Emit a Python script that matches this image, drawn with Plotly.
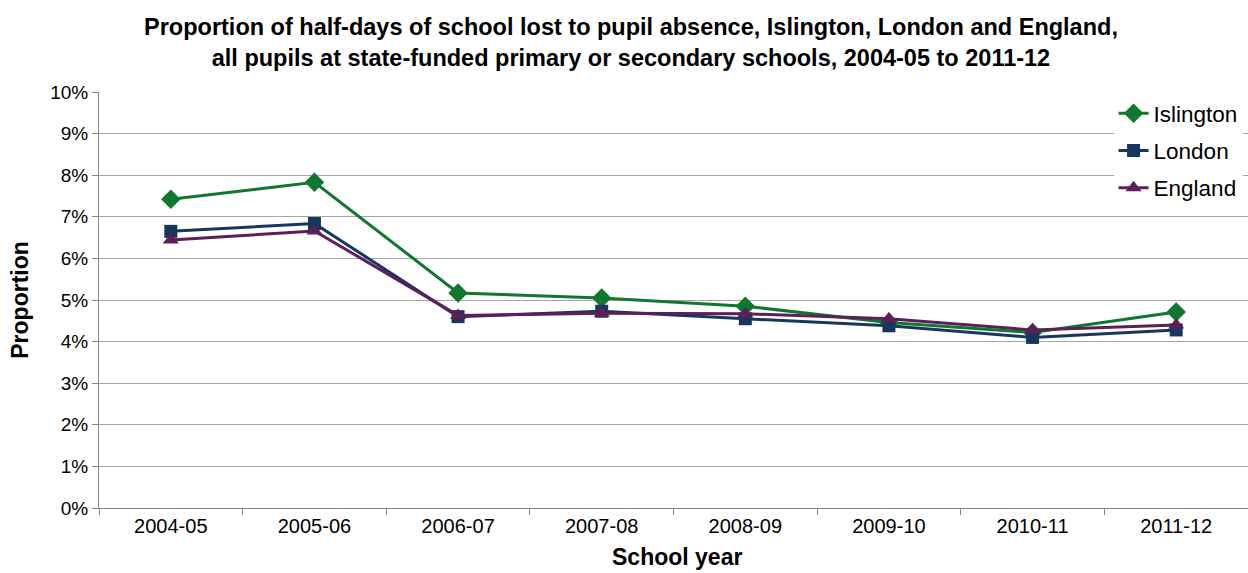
import plotly.graph_objects as go

# School years on the x axis
years = ["2004-05", "2005-06", "2006-07", "2007-08",
         "2008-09", "2009-10", "2010-11", "2011-12"]

# Percentage of half-days lost to absence
islington = [7.42, 7.83, 5.17, 5.05, 4.85, 4.46, 4.22, 4.71]
london = [6.65, 6.84, 4.60, 4.73, 4.55, 4.38, 4.10, 4.28]
england = [6.44, 6.66, 4.63, 4.68, 4.67, 4.55, 4.28, 4.40]

series = [
    ("Islington", islington, "#10772f", "diamond", 15),
    ("London", london, "#17375e", "square", 13),
    ("England", england, "#5c1f58", "triangle-up", 14),
]

fig = go.Figure()
for name, vals, color, symbol, size in series:
    fig.add_trace(go.Scatter(
        x=years, y=vals, name=name, mode="lines+markers",
        legendgroup=name,
        line=dict(color=color, width=3),
        marker=dict(symbol=symbol, size=size, color=color,
                    line=dict(width=0)),
    ))

font_family = "Liberation Sans, Arial, sans-serif"

fig.update_layout(
    width=1248, height=573,
    margin=dict(l=99, r=0, t=92, b=65),
    paper_bgcolor="white", plot_bgcolor="white",
    font=dict(family=font_family, color="black", size=19),
    showlegend=True,
    legend=dict(
        x=0.883, y=1.0, xanchor="left", yanchor="top",
        bgcolor="white", borderwidth=0,
        font=dict(size=22.5, family=font_family, color="black"),
        tracegroupgap=5,
    ),
    xaxis=dict(
        type="category", range=[-0.5, 7.5],
        showgrid=False, showline=True, linecolor="#868686", linewidth=1,
        ticks="outside", tickson="boundaries", ticklen=6, tickcolor="#868686",
        tickfont=dict(size=20),
    ),
    yaxis=dict(
        range=[0, 10], dtick=1, ticksuffix="%",
        showgrid=True, gridcolor="#a6a6a6", gridwidth=1,
        showline=True, linecolor="#868686", linewidth=1,
        ticks="outside", ticklen=6, tickcolor="#868686",
        tickfont=dict(size=19), zeroline=False,
    ),
    annotations=[
        dict(
            text="<b>Proportion of half-days of school lost to pupil absence, Islington, London and England,<br>"
                 "all pupils at state-funded primary or secondary schools, 2004-05 to 2011-12</b>",
            xref="paper", yref="paper", x=0.463, y=1.12,
            xanchor="center", yanchor="middle", showarrow=False,
            font=dict(size=23.5, family=font_family, color="black"),
        ),
        dict(
            text="<b>School year</b>", xref="paper", yref="paper",
            x=0.503, y=-0.117, xanchor="center", yanchor="middle",
            showarrow=False, font=dict(size=23, family=font_family, color="black"),
        ),
        dict(
            text="<b>Proportion</b>", xref="paper", yref="paper",
            x=-0.069, y=0.5, xanchor="center", yanchor="middle", textangle=-90,
            showarrow=False, font=dict(size=23, family=font_family, color="black"),
        ),
    ],
)

fig.write_html("out.html")
